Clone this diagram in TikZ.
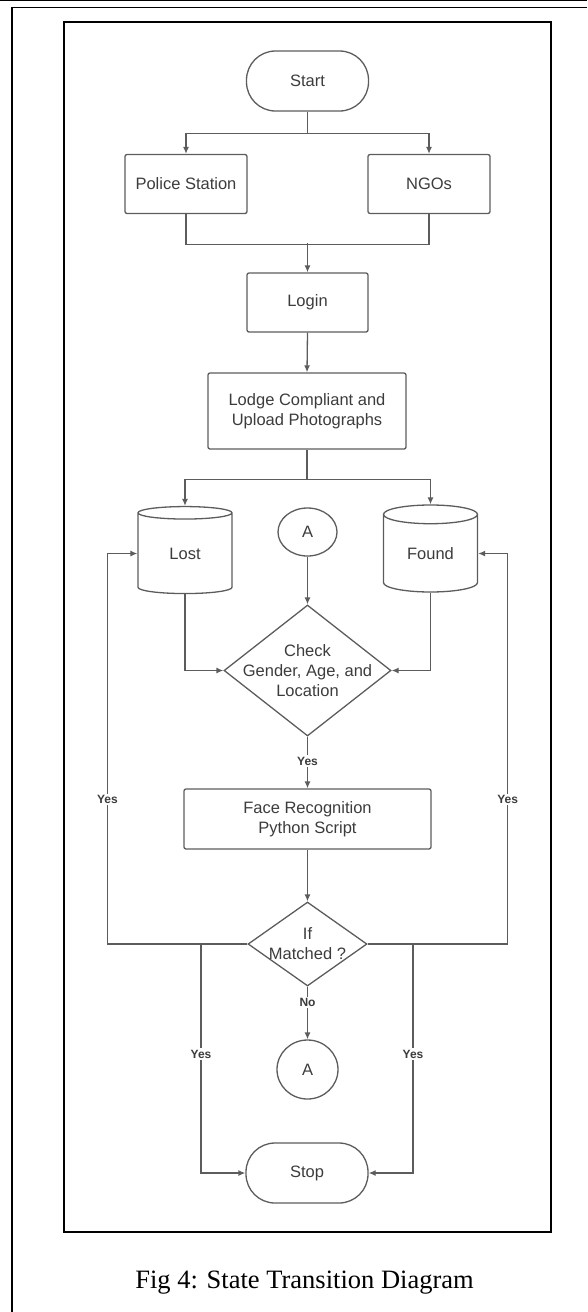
\documentclass[tikz,border=0pt]{standalone}
\usepackage{fontspec}
\setmainfont{Liberation Sans}
\newfontfamily\capfont{Liberation Serif}
\usetikzlibrary{shapes.geometric,arrows.meta}
\definecolor{linegray}{HTML}{5C5C5C}
\definecolor{textgray}{HTML}{3C3C3C}

\begin{document}
\begin{tikzpicture}[x=1pt,y=-1pt,
    ln/.style={draw=linegray, line width=1.3pt},
    arr/.style={ln, -{Latex[length=7pt,width=6pt]}},
    box/.style={ln, rounded corners=2pt, minimum width=122pt, minimum height=59pt, inner sep=0pt, align=center, text=textgray, font=\fontsize{16.5}{20}\selectfont},
    term/.style={box, rounded corners=29pt, minimum height=60pt},
    db/.style={ln, cylinder, shape border rotate=90, aspect=0.4, minimum width=94pt, minimum height=87pt, inner sep=0pt, text=textgray, font=\fontsize{16.5}{20}\selectfont},
    conn/.style={ln, ellipse, inner sep=0pt, text=textgray, font=\fontsize{16.5}{20}\selectfont},
    dia/.style={ln, diamond, inner sep=0pt},
    lbl/.style={align=center, text=textgray, font=\fontsize{16.5}{20}\selectfont},
    yes/.style={fill=white, inner sep=1.5pt, text=textgray, font=\bfseries\fontsize{12}{14}\selectfont}]
    \useasboundingbox (0,0) rectangle (587,1312);

    \draw[line width=1.2pt] (0,0.6) -- (587,0.6);
    \draw[line width=1.5pt] (12,1312) -- (12,7.5) -- (587,7.5);
    \draw[line width=1.6pt] (64,22) rectangle (551,1232);

    \node[term] (start) at (307.5,81) {Start};
    \node[box] (police) at (186,184) {Police Station};
    \node[box] (ngos) at (429,184) {NGOs};
    \node[box, minimum width=121pt] (login) at (307.5,302.5) {Login};
    \node[box, minimum width=198pt, minimum height=76pt] (lodge) at (307,411) {Lodge Compliant and\\Upload Photographs};
    \node[db] (lost) at (185,553.5) {Lost};
    \node[db] (found) at (430.5,553.5) {Found};
    \node[conn, minimum width=59pt, minimum height=48pt] (atop) at (307.5,532) {A};
    \node[dia, minimum width=167pt, minimum height=131pt] (check) at (307.5,670.5) {};
    \node[lbl] at (check) {Check\\Gender, Age, and\\Location};
    \node[box, minimum width=247pt, minimum height=60pt] (face) at (307.5,819) {Face Recognition\\Python Script};
    \node[dia, minimum width=119pt, minimum height=84pt] (match) at (307.5,944) {};
    \node[lbl] at (match) {If\\Matched ?};
    \node[conn, minimum width=61pt, minimum height=59pt] (abot) at (307.5,1069.5) {A};
    \node[term] (stop) at (307,1173) {Stop};

    \draw[arr] (start.south) -- ++(0,22) -| (police.north);
    \draw[arr] (start.south) -- ++(0,22) -| (ngos.north);
    \draw[ln] (police.south) -- ++(0,30) -| (ngos.south);
    \coordinate (join) at (307.5,243);
    \draw[arr] (join) -- (login.north);
    \draw[arr] (login.south) -- (lodge.north);
    \draw[arr] (lodge.south) -- ++(0,30) -| (lost.north);
    \draw[arr] (lodge.south) -- ++(0,30) -| (found.north);
    \draw[arr] (atop.south) -- (check.north);
    \draw[arr] (lost.south) |- (check.west);
    \draw[arr] (found.south) |- (check.east);
    \draw[arr] (check.south) -- (face.north) node[yes, pos=0.47] {Yes};
    \draw[arr] (face.south) -- (match.north);
    \draw[arr] (match.south) -- (abot.north) node[yes, pos=0.3] {No};

    \draw[arr] (match.west) -- ++(-140,0) |- (lost.west) node[yes, pos=0.185] {Yes};
    \draw[arr] (match.east) -- ++(140,0) |- (found.east) node[yes, pos=0.185] {Yes};
    \coordinate (lsplit) at (201,944);
    \coordinate (rsplit) at (413,944);
    \draw[arr] (lsplit) |- (stop.west) node[yes, pos=0.24] {Yes};
    \draw[arr] (rsplit) |- (stop.east) node[yes, pos=0.24] {Yes};

    \node[anchor=base, font=\capfont\fontsize{26.5}{30}\selectfont] (caption) at (304.5,1288) {Fig 4: State Transition Diagram};
  \end{tikzpicture}
\end{document}
